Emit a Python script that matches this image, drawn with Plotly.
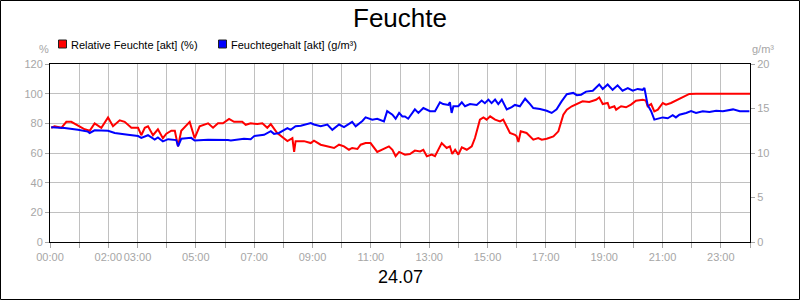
import plotly.graph_objects as go

# ---- data (hour of day, value) ----
rf_hours = [0.04, 0.16, 0.39, 0.56, 0.73, 1.02, 1.19, 1.36, 1.42, 1.53, 1.76, 1.99, 2.16, 2.39, 2.56,
            2.79, 3.02, 3.13, 3.25, 3.36, 3.53, 3.70, 3.87, 3.99, 4.16, 4.28, 4.39, 4.50, 4.79, 4.96,
            5.13, 5.42, 5.59, 5.76, 5.93, 6.10, 6.14, 6.31, 6.59, 6.71, 6.88, 7.11, 7.28, 7.45, 7.57,
            7.79, 7.96, 8.14, 8.31, 8.37, 8.42, 8.71, 8.94, 9.05, 9.28, 9.51, 9.74, 9.91, 10.08, 10.25,
            10.36, 10.54, 10.65, 10.82, 10.99, 11.22, 11.39, 11.62, 11.74, 11.85, 11.97, 12.06, 12.17,
            12.34, 12.51, 12.69, 12.80, 12.92, 13.09, 13.20, 13.43, 13.60, 13.71, 13.79, 13.89, 14.00,
            14.12, 14.29, 14.46, 14.57, 14.74, 14.86, 14.97, 15.09, 15.26, 15.43, 15.54, 15.77, 15.94,
            16.00, 16.06, 16.14, 16.34, 16.57, 16.74, 16.86, 17.03, 17.26, 17.43, 17.60, 17.72, 17.89,
            18.06, 18.26, 18.49, 18.72, 18.83, 18.95, 19.12, 19.18, 19.35, 19.41, 19.58, 19.75, 19.92,
            20.09, 20.32, 20.43, 20.49, 20.61, 20.72, 20.84, 21.01, 21.12, 21.29, 21.46, 21.69, 21.92,
            22.15, 23.0, 24.0]
rf_values = [77, 78, 77, 81, 81, 78, 76, 75, 77, 80, 77, 84, 78, 82, 81,
             77, 77, 72, 77, 78, 72, 76, 70, 73, 75, 75, 64.5, 75, 81, 70,
             78, 80, 77, 80, 80, 82, 83, 81, 81, 79, 80, 79.5, 80, 77, 79.5,
             73.5, 71, 68, 70, 60.7, 68, 68, 66.7, 68.3, 65.6, 64.5, 63.4, 65.6, 64.5, 62.2,
             63.4, 62.7, 65.6, 66.7, 66.7, 60.7, 62.2, 64.5, 62.2, 57.8, 60.7, 60, 58.9,
             59.3, 61.6, 61.1, 62.2, 57.8, 58.9, 57.8, 66.7, 63.4, 64.5, 59.3, 62.2, 58.9,
             63.8, 62.2, 64.5, 70.1, 82.5, 84, 82.5, 84.7, 82.5, 81.3, 82.5, 73.5, 72.3,
             71.2, 67.4, 74.6, 73.5, 69, 70.1, 69, 69.6, 71.2, 74.6, 85.8, 89.2, 91.5,
             93, 94.9, 94.4, 95.9, 97.5, 93, 93.7, 90.3, 91.5, 89.2, 91.5, 90.8, 92.6,
             95.3, 95.9, 95.3, 91.5, 93, 88.1, 89.2, 93.7, 92.6, 93.7, 95.3, 97.1, 99.8,
             100, 100, 100]

fg_hours = [0.04, 0.50, 0.96, 1.30, 1.36, 1.53, 1.99, 2.22, 2.67, 3.02, 3.13, 3.36, 3.59, 3.70, 3.87,
            4.05, 4.33, 4.39, 4.50, 4.84, 4.96, 5.42, 6.10, 6.20, 6.65, 6.88, 7.00, 7.34, 7.57, 7.68,
            7.85, 8.14, 8.25, 8.42, 8.60, 8.94, 9.05, 9.28, 9.51, 9.68, 9.91, 10.08, 10.36, 10.48, 10.71,
            10.82, 11.05, 11.22, 11.45, 11.56, 11.74, 11.85, 11.97, 12.08, 12.17, 12.28, 12.51, 12.63,
            12.80, 13.03, 13.20, 13.37, 13.48, 13.66, 13.71, 13.77, 13.83, 14.00, 14.12, 14.23, 14.40,
            14.63, 14.80, 14.91, 15.03, 15.14, 15.26, 15.37, 15.49, 15.66, 15.83, 15.94, 16.11, 16.29,
            16.46, 16.57, 16.80, 17.03, 17.20, 17.37, 17.54, 17.72, 17.94, 18.06, 18.21, 18.38, 18.61,
            18.83, 18.95, 19.12, 19.29, 19.46, 19.63, 19.81, 19.98, 20.15, 20.32, 20.38, 20.49, 20.61,
            20.72, 20.89, 21.01, 21.18, 21.35, 21.46, 21.58, 21.81, 21.98, 22.15, 22.38, 22.61, 22.84,
            23.07, 23.42, 23.65, 23.98]
fg_values = [12.9, 12.8, 12.6, 12.4, 12.25, 12.55, 12.5, 12.25, 12.05, 11.9, 11.7, 12.0, 11.5, 11.75, 11.3,
             11.55, 11.45, 10.75, 11.6, 11.7, 11.4, 11.5, 11.45, 11.4, 11.6, 11.55, 11.9, 12.05, 12.45, 12.15,
             12.25, 12.8, 12.6, 13.0, 13.07, 13.37, 13.2, 13.0, 13.2, 12.6, 13.2, 12.9, 13.5, 13.0, 13.6,
             14.0, 13.75, 13.85, 13.55, 14.7, 14.3, 13.85, 14.5, 14.1, 14.1, 13.85, 14.9, 14.5,
             15.05, 14.7, 14.7, 15.7, 15.5, 15.4, 15.7, 14.5, 15.25, 15.25, 15.7, 15.25, 15.5,
             15.4, 15.9, 15.6, 16.0, 15.6, 16.0, 15.5, 16.0, 14.9, 15.15, 15.4, 15.25, 16.1,
             15.5, 15.05, 14.95, 14.75, 14.5, 14.9, 15.8, 16.6, 16.75, 16.5, 16.55, 16.9, 17.0,
             17.7, 17.2, 17.7, 17.1, 17.6, 17.0, 17.3, 17.0, 17.2, 17.1, 17.3, 15.4, 14.7,
             13.75, 13.85, 14.0, 13.9, 14.25, 14.0, 14.3, 14.5, 14.7, 14.5, 14.7, 14.6, 14.75,
             14.7, 14.9, 14.7, 14.7]

tick_hours = list(range(0, 25))
tick_labels = ["00:00", "", "02:00", "03:00", "", "05:00", "", "07:00", "", "09:00", "", "11:00", "",
               "13:00", "", "15:00", "", "17:00", "", "19:00", "", "21:00", "", "23:00", ""]

series_names = ["Relative Feuchte [akt] (%)", "Feuchtegehalt [akt] (g/m³)"]
series_colors = ["#ff0000", "#0000ff"]

# ---- layout geometry (pixels) ----
W, H = 800, 300
L, R, T, B = 50, 50, 64, 58
PW, PH = W - L - R, H - T - B


def px(x):
    return (x - L) / PW


def py(y):
    return (H - B - y) / PH


FONT = "Arial, Liberation Sans, sans-serif"
GRAY = "#a6a6a6"

fig = go.Figure()
fig.add_trace(go.Scatter(x=rf_hours, y=rf_values, mode="lines", name=series_names[0],
                         line=dict(color=series_colors[0], width=2), yaxis="y"))
fig.add_trace(go.Scatter(x=fg_hours, y=fg_values, mode="lines", name=series_names[1],
                         line=dict(color=series_colors[1], width=2), yaxis="y2"))

shapes = [
    # outer frame
    dict(type="rect", xref="paper", yref="paper", x0=px(0.5), x1=px(W - 0.5), y0=py(0.5), y1=py(H - 0.5),
         line=dict(color="black", width=1), fillcolor="rgba(0,0,0,0)", layer="above"),
]
annotations = []
legend_sq_x = [58.5, 218.5]
legend_txt_x = [70, 230]
for i in range(2):
    shapes.append(dict(type="rect", xref="paper", yref="paper",
                       x0=px(legend_sq_x[i]), x1=px(legend_sq_x[i] + 8),
                       y0=py(48), y1=py(40), fillcolor=series_colors[i],
                       line=dict(color="#202020", width=1)))
    annotations.append(dict(xref="paper", yref="paper", x=px(legend_txt_x[i]), y=py(44.5),
                            xanchor="left", yanchor="middle", text=series_names[i], showarrow=False,
                            font=dict(family=FONT, size=11, color="black"), borderpad=0))

annotations += [
    dict(xref="paper", yref="paper", x=px(43.5), y=py(49), xanchor="center", yanchor="middle",
         text="%", showarrow=False, font=dict(family=FONT, size=11, color=GRAY), borderpad=0),
    dict(xref="paper", yref="paper", x=px(763), y=py(48.5), xanchor="center", yanchor="middle",
         text="g/m³", showarrow=False, font=dict(family=FONT, size=11, color=GRAY), borderpad=0),
    dict(xref="paper", yref="paper", x=0.5, y=py(277), xanchor="center", yanchor="middle",
         text="24.07", showarrow=False, font=dict(family=FONT, size=18, color="black"), borderpad=0),
    dict(xref="paper", yref="paper", x=0.5, y=py(18), xanchor="center", yanchor="middle",
         text="Feuchte", showarrow=False, font=dict(family=FONT, size=26, color="black"), borderpad=0),
]

fig.update_layout(
    width=W, height=H,
    margin=dict(l=L, r=R, t=T, b=B, pad=0),
    paper_bgcolor="white", plot_bgcolor="white",
    showlegend=False,
    font=dict(family=FONT, size=11, color=GRAY),
    xaxis=dict(range=[0, 24], tickmode="array", tickvals=tick_hours, ticktext=tick_labels,
               tickangle=0,
               showgrid=True, gridcolor="#c0c0c0", gridwidth=1, zeroline=False,
               showline=True, linecolor="black", linewidth=1, mirror=True,
               ticks="outside", ticklen=5, tickcolor=GRAY, tickwidth=1,
               tickfont=dict(family=FONT, size=11, color=GRAY), automargin=False),
    yaxis=dict(range=[0, 120], tickmode="array", tickvals=[0, 20, 40, 60, 80, 100, 120],
               showgrid=True, gridcolor="#c0c0c0", gridwidth=1, zeroline=False,
               showline=True, linecolor="black", linewidth=1, mirror=True,
               ticks="outside", ticklen=4, tickcolor=GRAY, tickwidth=1,
               tickfont=dict(family=FONT, size=11, color=GRAY), automargin=False),
    yaxis2=dict(range=[0, 20], tickmode="array", tickvals=[0, 5, 10, 15, 20], overlaying="y", side="right",
                showgrid=False, zeroline=False, showline=True, linecolor="black", linewidth=1,
                ticks="outside", ticklen=4, tickcolor=GRAY, tickwidth=1,
                tickfont=dict(family=FONT, size=11, color=GRAY), automargin=False),
    shapes=shapes,
    annotations=annotations,
)

fig.write_html("out.html")
